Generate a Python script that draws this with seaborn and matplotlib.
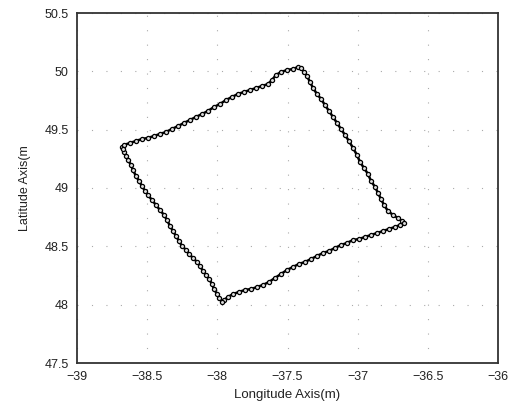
import matplotlib
matplotlib.use("Agg")
import matplotlib.pyplot as plt
import seaborn as sns
import pandas as pd

# Trajectory (longitude, latitude in m)
lon = [
    -38.679, -38.665, -38.622, -38.580, -38.537, -38.494, -38.451, -38.409, -38.366, -38.323,
    -38.280, -38.238, -38.195, -38.152, -38.109, -38.067, -38.024, -37.981, -37.938, -37.896,
    -37.853, -37.810, -37.767, -37.724, -37.682, -37.639, -37.610, -37.582, -37.546, -37.504,
    -37.461, -37.425, -37.404,
    -37.382, -37.361, -37.340, -37.318, -37.290, -37.261, -37.233, -37.204, -37.176, -37.147,
    -37.119, -37.090, -37.062, -37.033, -37.005, -36.983, -36.955, -36.926, -36.905, -36.876,
    -36.855, -36.834, -36.812, -36.784, -36.748, -36.713, -36.684, -36.670,
    -36.698, -36.734, -36.777, -36.819, -36.862, -36.905, -36.948, -36.990, -37.033, -37.076,
    -37.119, -37.162, -37.204, -37.247, -37.290, -37.333, -37.375, -37.418, -37.461, -37.504,
    -37.546, -37.589, -37.632, -37.675, -37.717, -37.760, -37.803, -37.846, -37.888, -37.924,
    -37.952, -37.967,
    -37.988, -38.002, -38.024, -38.038, -38.059, -38.081, -38.102, -38.124, -38.145, -38.173,
    -38.202, -38.223, -38.252, -38.273, -38.295, -38.316, -38.337, -38.359, -38.380, -38.409,
    -38.437, -38.466, -38.494, -38.515, -38.537, -38.558, -38.580, -38.601, -38.615, -38.637,
    -38.651, -38.665, -38.672,
]
lat = [
    49.351, 49.369, 49.386, 49.403, 49.420, 49.429, 49.446, 49.463, 49.480, 49.506,
    49.531, 49.557, 49.583, 49.609, 49.634, 49.660, 49.694, 49.720, 49.754, 49.780,
    49.806, 49.823, 49.840, 49.857, 49.874, 49.891, 49.926, 49.969, 49.994, 50.011,
    50.020, 50.037, 50.029,
    49.994, 49.960, 49.909, 49.857, 49.806, 49.763, 49.711, 49.660, 49.609, 49.557,
    49.506, 49.454, 49.403, 49.343, 49.283, 49.223, 49.171, 49.120, 49.060, 49.009,
    48.957, 48.906, 48.854, 48.803, 48.769, 48.743, 48.717, 48.700,
    48.683, 48.666, 48.649, 48.631, 48.614, 48.597, 48.580, 48.563, 48.554, 48.529,
    48.511, 48.486, 48.460, 48.443, 48.417, 48.391, 48.366, 48.349, 48.323, 48.297,
    48.263, 48.229, 48.194, 48.169, 48.151, 48.134, 48.126, 48.109, 48.091, 48.066,
    48.040, 48.023,
    48.057, 48.091, 48.134, 48.177, 48.220, 48.254, 48.289, 48.331, 48.366, 48.400,
    48.434, 48.469, 48.503, 48.546, 48.589, 48.631, 48.674, 48.726, 48.769, 48.811,
    48.854, 48.897, 48.940, 48.974, 49.017, 49.060, 49.103, 49.154, 49.197, 49.240,
    49.274, 49.309, 49.334,
]

x_ticks = [-39, -38.5, -38, -37.5, -37, -36.5, -36]
y_ticks = [47.5, 48, 48.5, 49, 49.5, 50, 50.5]
x_label = "Longitude Axis(m)"
y_label = "Latitude Axis(m"

sns.set_style("white")
plt.rcParams["font.family"] = ["Liberation Sans", "DejaVu Sans"]

df = pd.DataFrame({"lon": lon, "lat": lat})

fig = plt.figure(figsize=(5.24, 4.16), dpi=100)
ax = fig.add_axes([77 / 524, 1 - 363 / 416, (498 - 77) / 524, (363 - 13) / 416])

sns.lineplot(data=df, x="lon", y="lat", sort=False, estimator=None, ax=ax,
             color="black", linewidth=1.8, marker="o", markersize=3.0,
             markerfacecolor="#dddddd", markeredgecolor="black", markeredgewidth=0.9)

ax.set_xlim(-39, -36)
ax.set_ylim(47.5, 50.5)
ax.set_xticks(x_ticks)
ax.set_yticks(y_ticks)
ax.set_xticklabels([f"{t:g}".replace("-", "\u2212") for t in x_ticks], fontsize=9)
ax.set_yticklabels([f"{t:g}" for t in y_ticks], fontsize=9)
ax.tick_params(axis="both", length=0, pad=6, colors="#222222")
ax.grid(True, linestyle=(0, (1, 12)), color="#aaaaaa", linewidth=0.8)
for s in ax.spines.values():
    s.set_color("#333333")
    s.set_linewidth(1.3)
ax.set_xlabel(x_label, fontsize=9.5, labelpad=4, color="#222222")
ax.set_ylabel(y_label, fontsize=9, labelpad=10, color="#222222")

fig.savefig("out.png", dpi=100)
